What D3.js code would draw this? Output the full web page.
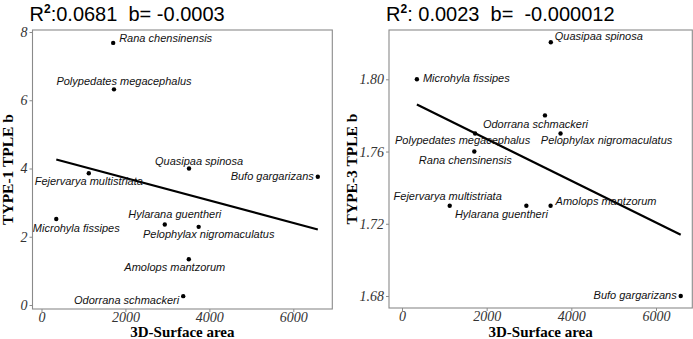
<!DOCTYPE html>
<html>
<head>
<meta charset="utf-8">
<script src="https://cdn.jsdelivr.net/npm/d3@7"></script>
<style>
  body { margin: 0; background: #fff; }
  svg { display: block; }
  text { white-space: pre; }
</style>
</head>
<body>
<svg id="chart" width="693" height="339"></svg>
<script>
// species and their values
const species = ["Microhyla fissipes", "Fejervarya multistriata", "Rana chensinensis",
  "Polypedates megacephalus", "Hylarana guentheri", "Odorrana schmackeri",
  "Quasipaa spinosa", "Amolops mantzorum", "Pelophylax nigromaculatus", "Bufo gargarizans"];
const surfaceArea = [352, 1127, 1708, 1727, 2938, 3377, 3515, 3510, 3745, 6584];
const type1Tple = [2.52, 3.86, 7.68, 6.32, 2.36, 0.26, 4.00, 1.34, 2.29, 3.76];
const type3Tple = [1.800, 1.730, 1.760, 1.770, 1.730, 1.780, 1.8205, 1.730, 1.770, 1.680];

const xTicks = [0, 2000, 4000, 6000];
const type1Ticks = [0, 2, 4, 6, 8];
const type3Ticks = [1.68, 1.72, 1.76, 1.80];

const svg = d3.select("#chart");

// label placement next to each dot: [dx, dy, anchor]
const leftLabels = {
  "Rana chensinensis": [6, -1, "start"],
  "Polypedates megacephalus": [10, -4, "middle"],
  "Quasipaa spinosa": [10, -4, "middle"],
  "Fejervarya multistriata": [0, 12, "middle"],
  "Bufo gargarizans": [-4, 3.5, "end"],
  "Microhyla fissipes": [20, 12.5, "middle"],
  "Hylarana guentheri": [10, -6, "middle"],
  "Pelophylax nigromaculatus": [10, 11, "middle"],
  "Amolops mantzorum": [-14, 12, "middle"],
  "Odorrana schmackeri": [-4, 8, "end"]
};
const rightLabels = {
  "Quasipaa spinosa": [4, -2.5, "start"],
  "Microhyla fissipes": [6, 3, "start"],
  "Odorrana schmackeri": [-9.5, 13, "middle"],
  "Polypedates megacephalus": [-12.5, 10.7, "middle"],
  "Pelophylax nigromaculatus": [46, 10.7, "middle"],
  "Rana chensinensis": [-9, 12, "middle"],
  "Fejervarya multistriata": [-2, -5.7, "middle"],
  "Hylarana guentheri": [-25, 12, "middle"],
  "Amolops mantzorum": [5, -1, "start"],
  "Bufo gargarizans": [-4, 3, "end"]
};

function drawPanel(cfg) {
  const data = species.map((s, i) => ({name: s, x: surfaceArea[i], y: cfg.values[i]}));

  const x = d3.scaleLinear().domain([0, 6000]).range(cfg.xRange);
  const y = d3.scaleLinear().domain(cfg.yCal).range(cfg.yRange);

  const g = svg.append("g");

  // least squares fit
  const mx = d3.mean(data, d => d.x), my = d3.mean(data, d => d.y);
  const b = d3.sum(data, d => (d.x - mx) * (d.y - my)) / d3.sum(data, d => (d.x - mx) ** 2);
  const a = my - b * mx;
  const ext = d3.extent(data, d => d.x);

  g.append("rect")
    .attr("x", cfg.box[0]).attr("y", cfg.box[1])
    .attr("width", cfg.box[2] - cfg.box[0]).attr("height", cfg.box[3] - cfg.box[1])
    .attr("fill", "none").attr("stroke", "#8a8a8a").attr("stroke-width", 1.1);

  // axes
  const xAxis = d3.axisBottom(x).tickValues(xTicks).tickSize(3).tickPadding(2).tickFormat(d3.format("d"));
  const yAxis = d3.axisLeft(y).tickValues(cfg.yTicks).tickSize(3).tickPadding(2).tickFormat(cfg.fmt);

  const xg = g.append("g").attr("transform", `translate(0,${cfg.box[3]})`).call(xAxis);
  const yg = g.append("g").attr("transform", `translate(${cfg.box[0]},0)`).call(yAxis);
  [xg, yg].forEach(ax => {
    ax.select(".domain").remove();
    ax.selectAll(".tick line").attr("stroke", "#8a8a8a");
    ax.selectAll(".tick text")
      .attr("fill", "#333")
      .style("font-family", "'Liberation Serif', 'Times New Roman', serif")
      .style("font-style", "italic")
      .style("font-size", "14px");
  });
  xg.selectAll(".tick text").attr("y", 13).attr("dy", 0);

  g.append("line")
    .attr("x1", x(ext[0])).attr("y1", y(a + b * ext[0]))
    .attr("x2", x(ext[1])).attr("y2", y(a + b * ext[1]))
    .attr("stroke", "#000").attr("stroke-width", 2.2);

  g.selectAll("circle.pt").data(data).join("circle")
    .attr("class", "pt")
    .attr("cx", d => x(d.x)).attr("cy", d => y(d.y))
    .attr("r", 2.2).attr("fill", "#000");

  g.selectAll("text.lab").data(data).join("text")
    .attr("class", "lab")
    .attr("x", d => x(d.x) + cfg.labels[d.name][0])
    .attr("y", d => y(d.y) + cfg.labels[d.name][1])
    .attr("text-anchor", d => cfg.labels[d.name][2])
    .style("font-family", "'Liberation Sans', Arial, sans-serif")
    .style("font-style", "italic")
    .style("font-size", "11px")
    .attr("fill", "#111")
    .text(d => d.name);

  // title
  const t = g.append("text")
    .attr("x", cfg.box[0] - 3).attr("y", 21)
    .style("font-family", "'Liberation Sans', Arial, sans-serif")
    .style("font-size", "20px")
    .attr("fill", "#000");
  t.append("tspan").text("R");
  t.append("tspan").attr("dy", -8).style("font-size", "12px").style("font-weight", "bold").text("2");
  t.append("tspan").attr("dy", 8).text(cfg.title);

  // axis titles
  g.append("text")
    .attr("x", (cfg.box[0] + cfg.box[2]) / 2).attr("y", 336.5)
    .attr("text-anchor", "middle")
    .style("font-family", "'Liberation Serif', 'Times New Roman', serif")
    .style("font-weight", "bold").style("font-size", "15px")
    .text("3D-Surface area");
  g.append("text")
    .attr("transform", `translate(${cfg.yTitleX},${(cfg.box[1] + cfg.box[3]) / 2}) rotate(-90)`)
    .attr("text-anchor", "middle")
    .style("font-family", "'Liberation Serif', 'Times New Roman', serif")
    .style("font-weight", "bold").style("font-size", "15.5px")
    .text(cfg.yTitle);
}

drawPanel({
  values: type1Tple, labels: leftLabels,
  box: [32.5, 30, 332.3, 309],
  xRange: [41.5, 293.3], yCal: [0, 8], yRange: [305, 32],
  yTicks: type1Ticks, fmt: d3.format("d"),
  title: ":0.0681  b= -0.0003",
  yTitle: "TYPE-1 TPLE b", yTitleX: 13
});

drawPanel({
  values: type3Tple, labels: rightLabels,
  box: [389, 30, 692.3, 308],
  xRange: [402, 656], yCal: [1.68, 1.80], yRange: [296, 79.3],
  yTicks: type3Ticks, fmt: d3.format(".2f"),
  title: ": 0.0023  b=  -0.000012",
  yTitle: "TYPE-3 TPLE b", yTitleX: 357
});
</script>
</body>
</html>
